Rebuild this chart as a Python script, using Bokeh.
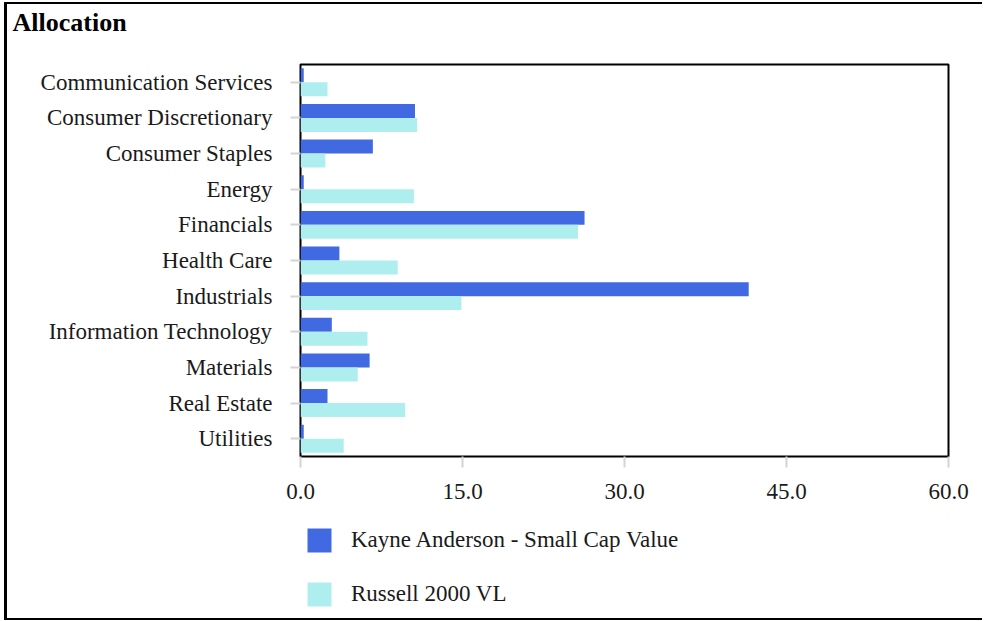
from bokeh.plotting import figure
from bokeh.models import (ColumnDataSource, FactorRange, Range1d, FixedTicker,
                          PrintfTickFormatter, Legend, LegendItem, Title)
from bokeh.transform import dodge
from bokeh.layouts import column
from bokeh.embed import file_html
from bokeh.resources import INLINE

categories = ["Communication Services", "Consumer Discretionary", "Consumer Staples",
              "Energy", "Financials", "Health Care", "Industrials",
              "Information Technology", "Materials", "Real Estate", "Utilities"]
kayne = [0.3, 10.6, 6.7, 0.3, 26.3, 3.6, 41.5, 2.9, 6.4, 2.5, 0.3]
russell = [2.5, 10.8, 2.3, 10.5, 25.7, 9.0, 14.9, 6.2, 5.3, 9.7, 4.0]
x_ticks = [0, 15, 30, 45, 60]
series_names = ["Kayne Anderson - Small Cap Value", "Russell 2000 VL"]
colors = ["#4169E1", "#AFEEEE"]

FONT = "Liberation Serif"
TXT = "#1a1a1a"
W = 975
H0 = 50
H1 = 460
H2 = 104


def blank(height):
    f = figure(width=W, height=height, output_backend="svg", toolbar_location=None,
               x_axis_location=None, y_axis_location=None,
               x_range=Range1d(0, 1), y_range=Range1d(0, 1),
               min_border=0, min_border_left=0, min_border_right=0,
               min_border_top=0, min_border_bottom=0)
    f.outline_line_color = None
    f.xgrid.visible = False
    f.ygrid.visible = False
    f.border_fill_color = "white"
    return f


# title strip
tf = blank(H0)
tf.title = Title(text="Allocation", text_font=FONT, text_font_size="26px",
                 text_font_style="bold", text_color="black", align="left",
                 vertical_align="top", offset=-288, standoff=7)

# main chart
src = ColumnDataSource(dict(cat=categories, ka=kayne, ru=russell))

p = figure(width=W, height=H1, output_backend="svg", toolbar_location=None,
           y_range=FactorRange(factors=list(reversed(categories))),
           x_range=Range1d(0, 60),
           min_border_left=293, min_border_right=34, min_border_top=10,
           min_border_bottom=58)

p.hbar(y=dodge("cat", 0.196, range=p.y_range), left=0, right="ka", height=0.392,
       source=src, fill_color=colors[0], line_color=None)
p.hbar(y=dodge("cat", -0.196, range=p.y_range), left=0, right="ru", height=0.392,
       source=src, fill_color=colors[1], line_color=None)

p.xgrid.visible = False
p.ygrid.visible = False
p.outline_line_color = "black"
p.outline_line_width = 2
p.background_fill_color = "white"
p.border_fill_color = "white"

xa = p.xaxis[0]
xa.ticker = FixedTicker(ticks=x_ticks)
xa.formatter = PrintfTickFormatter(format="%.1f")
xa.axis_line_color = None
xa.major_tick_line_color = "#d4d4d4"
xa.major_tick_line_width = 2
xa.major_tick_out = 11
xa.major_tick_in = 0
xa.minor_tick_line_color = None
xa.major_label_text_font = FONT
xa.major_label_text_font_size = "23px"
xa.major_label_text_color = TXT
xa.major_label_standoff = 16

ya = p.yaxis[0]
ya.axis_line_color = None
ya.major_tick_line_color = "#d4d4d4"
ya.major_tick_line_width = 2
ya.major_tick_out = 10
ya.major_tick_in = 0
ya.major_label_text_font = FONT
ya.major_label_text_font_size = "23px"
ya.major_label_text_color = TXT
ya.major_label_standoff = 18

# legend strip below the chart
lf = blank(H2)
lr1 = lf.hbar(y=[5], left=[4], right=[5], height=0.5, fill_color=colors[0], line_color=None)
lr2 = lf.hbar(y=[5], left=[4], right=[5], height=0.5, fill_color=colors[1], line_color=None)

legend = Legend(items=[LegendItem(label=series_names[0], renderers=[lr1]),
                       LegendItem(label=series_names[1], renderers=[lr2])],
                location=(4, 9), orientation="vertical",
                glyph_width=30, glyph_height=30, label_standoff=17,
                spacing=24, padding=0, margin=0,
                label_text_font=FONT, label_text_font_size="23px",
                label_text_color=TXT, border_line_color=None,
                background_fill_alpha=0)
lf.add_layout(legend, "center")

layout = column(tf, p, lf, spacing=0,
                styles={"border-left": "3px solid black",
                        "border-top": "2px solid black",
                        "border-bottom": "2px solid black",
                        "margin-left": "4px", "margin-top": "2px"})

open("out.html", "w").write(file_html(layout, INLINE))
